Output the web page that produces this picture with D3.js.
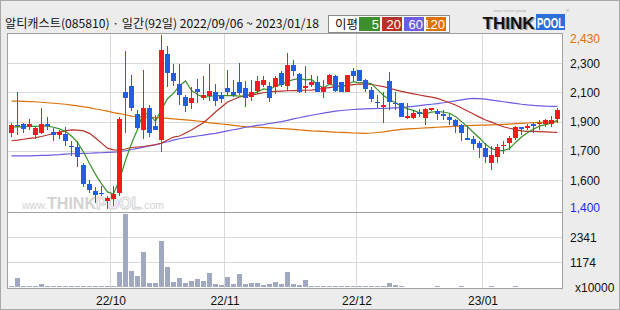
<!DOCTYPE html>
<html>
<head>
<meta charset="utf-8">
<script src="https://cdn.jsdelivr.net/npm/d3@7"></script>
<style>
body { margin: 0; background: #ececec; }
text { font-family: "Liberation Sans", Arial, sans-serif; }
</style>
</head>
<body>
<svg id="chart" width="620" height="310"></svg>
<script>
// daily candles, 2022/09/06 ~ 2023/01/18 (92 sessions)
var opens = [1850,1900,1905,1885,1840,1850,1905,1855,1840,1845,
  1775,1765,1660,1550,1505,1495,1445,1460,1495,2090,
  2130,1965,1870,2000,1890,1810,2320,2205,2140,2065,
  2025,2110,2060,2070,2095,2075,2115,2095,2150,2115,
  2065,2100,2135,2130,2125,2205,2130,2250,2200,2115,
  2135,2150,2095,2140,2185,2150,2095,2215,2220,2165,
  2105,2035,2005,2160,2030,2025,1940,1940,1975,1940,
  1985,1980,1960,1945,1925,1895,1820,1815,1790,1760,
  1670,1705,1775,1790,1820,1885,1880,1905,1905,1905,
  1905,1935];
var highs = [1910,2090,1910,1930,1885,1995,1945,1880,1870,1885,
  1800,1800,1670,1570,1530,1535,1475,1535,1945,2335,
  2195,1985,2225,2015,1955,2430,2365,2260,2260,2075,
  2125,2170,2185,2260,2140,2095,2225,2165,2265,2155,
  2165,2185,2185,2150,2185,2215,2325,2280,2205,2245,
  2195,2185,2165,2200,2195,2150,2195,2235,2225,2170,
  2120,2075,2095,2210,2090,2025,2030,1985,1990,1995,
  2000,1990,1985,1965,1935,1905,1885,1830,1800,1790,
  1770,1785,1805,1830,1890,1885,1905,1910,1925,1935,
  1950,1995];
var lows = [1825,1840,1850,1870,1815,1845,1870,1805,1815,1770,
  1715,1650,1530,1495,1435,1475,1400,1420,1475,1850,
  1980,1865,1815,1825,1865,1740,2120,2130,2015,1975,
  1990,2030,2045,2040,2010,2030,2070,2065,2075,2005,
  2040,2080,2120,2035,2080,2120,2100,2185,2085,2085,
  2120,2090,2060,2135,2090,2090,2095,2160,2155,2090,
  2035,2000,1910,1985,1985,1945,1930,1930,1945,1895,
  1980,1925,1925,1895,1850,1805,1815,1750,1700,1675,
  1630,1675,1725,1750,1810,1840,1870,1850,1870,1885,
  1885,1910];
var closes = [1895,1890,1875,1905,1880,1905,1890,1840,1855,1805,
  1770,1705,1550,1515,1485,1490,1465,1490,1935,2055,
  1995,1880,2000,1850,1870,2340,2205,2160,2075,2010,
  2055,2090,2075,2100,2040,2050,2090,2075,2085,2055,
  2090,2160,2165,2055,2175,2135,2250,2215,2090,2130,
  2150,2095,2120,2195,2100,2090,2195,2190,2160,2110,
  2050,2025,2015,2035,2020,1945,1950,1970,1960,1990,
  2000,1965,1955,1925,1890,1850,1815,1785,1760,1705,
  1720,1765,1780,1820,1885,1880,1890,1890,1910,1925,
  1925,1985];
// volume, x10000 shares
var volumes = [60,453,50,50,50,160,55,50,45,55,
  50,60,55,50,45,50,55,50,720,3430,
  765,530,1650,205,205,2165,950,250,440,205,
  300,390,300,670,160,90,485,160,625,160,
  205,205,90,160,250,160,720,160,90,330,
  80,70,70,70,70,70,80,60,80,70,
  60,60,70,205,90,45,40,40,40,40,
  40,45,40,40,40,45,40,40,40,40,
  45,40,40,40,45,40,40,40,40,40,
  40,40];
// moving averages
var ma5 = [1885,1888,1886,1890,1889,1891,1891,1884,1874,1859,
  1832,1795,1737,1669,1605,1549,1501,1489,1573,1687,
  1788,1871,1973,1956,1919,1988,2053,2085,2130,2158,
  2101,2078,2061,2066,2072,2071,2071,2071,2068,2071,
  2079,2093,2111,2105,2129,2138,2156,2166,2173,2164,
  2167,2136,2117,2138,2132,2120,2140,2154,2147,2149,
  2141,2107,2072,2047,2029,2008,1993,1984,1969,1963,
  1974,1977,1974,1967,1947,1917,1887,1853,1820,1783,
  1757,1747,1746,1758,1794,1826,1851,1873,1891,1899,
  1908,1927];
var ma20 = [1804,1808,1813,1818,1823,1829,1838,1847,1856,1862,
  1868,1867,1862,1848,1820,1790,1760,1750,1748,1755,
  1764,1767,1770,1776,1782,1789,1808,1826,1832,1850,
  1868,1890,1911,1942,1974,2004,2033,2048,2063,2069,
  2075,2081,2088,2094,2096,2098,2100,2101,2102,2103,
  2104,2109,2114,2119,2124,2128,2132,2136,2140,2139,
  2137,2131,2124,2115,2105,2096,2089,2082,2075,2068,
  2062,2055,2042,2029,2016,1998,1980,1962,1944,1927,
  1914,1900,1887,1878,1870,1862,1860,1859,1858,1857,
  1855,1854];
var ma60 = [1714,1714,1715,1715,1716,1717,1718,1720,1722,1725,
  1727,1728,1729,1730,1732,1733,1735,1737,1739,1745,
  1752,1759,1766,1773,1779,1789,1798,1808,1816,1822,
  1827,1832,1837,1843,1848,1855,1862,1869,1876,1884,
  1889,1895,1900,1906,1911,1917,1925,1933,1940,1948,
  1955,1961,1967,1973,1979,1983,1986,1989,1991,1993,
  1994,1995,1996,1997,1999,2001,2004,2008,2012,2016,
  2020,2024,2029,2035,2040,2046,2052,2055,2053,2050,
  2045,2040,2035,2030,2025,2020,2016,2013,2011,2009,
  2008,2007];
var ma120 = [2039,2038,2037,2036,2035,2032,2029,2026,2023,2020,
  2015,2010,2004,2000,1992,1986,1979,1971,1965,1958,
  1950,1946,1945,1943,1941,1939,1937,1933,1930,1928,
  1925,1921,1917,1910,1907,1903,1899,1895,1891,1888,
  1886,1884,1882,1880,1878,1876,1874,1871,1868,1866,
  1863,1861,1859,1857,1855,1854,1852,1850,1849,1848,
  1850,1853,1857,1862,1867,1871,1874,1876,1878,1880,
  1882,1884,1886,1888,1890,1891,1893,1895,1896,1897,
  1898,1899,1901,1903,1905,1907,1909,1911,1913,1914,
  1916,1917];

var priceTicks = [2430, 2262, 2090, 1917, 1744, 1571, 1400];
var priceLabels = ["2,430", "2,300", "2,100", "1,900", "1,700", "1,600", "1,400"];
var volTicks = [2341, 1174];
var volLabels = ["2341", "1174"];
var monthStarts = [17, 36, 58, 79];
var monthLabels = ["22/10", "22/11", "22/12", "23/01"];
var maNames = ["5", "20", "60", "120"];
var maColors = ["#3c8f2c", "#b9322a", "#6b5ce0", "#da7206"];

var svg = d3.select("#chart");
var n = closes.length;

var x = d3.scaleLinear().domain([0, n - 1]).range([11, 557]);
var yP = d3.scaleLinear().domain([1400, 2430]).range([209, 35]);
var yV = d3.scaleLinear().domain([0, 3521]).range([287.4, 212]);

// frame and panels
svg.append("rect").attr("x", 0.5).attr("y", 0.5).attr("width", 619).attr("height", 309)
  .attr("fill", "#ececec").attr("stroke", "#a8a8a8");
svg.append("rect").attr("x", 7.5).attr("y", 33.5).attr("width", 555).attr("height", 255)
  .attr("fill", "#fff");

var grid = svg.append("g").attr("stroke", "#d9d9d9").attr("shape-rendering", "crispEdges");
priceTicks.slice(1, -1).forEach(function (v) {
  grid.append("line").attr("x1", 8).attr("x2", 562)
    .attr("y1", Math.round(yP(v)) + 0.5).attr("y2", Math.round(yP(v)) + 0.5);
});
volTicks.forEach(function (v) {
  grid.append("line").attr("x1", 8).attr("x2", 562)
    .attr("y1", Math.round(yV(v)) + 0.5).attr("y2", Math.round(yV(v)) + 0.5);
});
monthStarts.forEach(function (i) {
  grid.append("line").attr("y1", 34).attr("y2", 288)
    .attr("x1", x(i) - 3 + 0.5).attr("x2", x(i) - 3 + 0.5);
});

// watermark
var wm = svg.append("text").attr("x", 22).attr("y", 209).attr("fill", "#d2d2d2");
wm.append("tspan").attr("font-size", 10.5).text("www.");
wm.append("tspan").attr("font-size", 16).attr("font-weight", "bold").text("THINK");
wm.append("tspan").attr("font-size", 16).attr("font-weight", "bold")
  .attr("fill", "#fff").attr("stroke", "#d2d2d2").attr("stroke-width", 1).text("POOL");
wm.append("tspan").attr("font-size", 10.5).text(".com");

// volume bars
svg.append("g").attr("shape-rendering", "crispEdges").selectAll("rect")
  .data(volumes).enter().append("rect")
  .attr("x", function (d, i) { return x(i) - 2; })
  .attr("width", 5)
  .attr("y", function (d) { return yV(d); })
  .attr("height", function (d) { return yV(0) - yV(d); })
  .attr("fill", "#a1a9c1");

// moving averages
var line = d3.line()
  .x(function (d, i) { return x(i) + 0.5; })
  .y(function (d) { return yP(d); });
[ma120, ma60, ma20, ma5].forEach(function (s, k) {
  svg.append("path").datum(s).attr("d", line).attr("fill", "none")
    .attr("stroke", maColors[3 - k]).attr("stroke-width", 1.2);
});

// candles
var candle = svg.append("g").attr("shape-rendering", "crispEdges")
  .selectAll("g").data(closes).enter().append("g");
function col(i) { return closes[i] >= opens[i] ? "#f21c1c" : "#1f5fe3"; }
candle.append("rect")
  .attr("x", function (d, i) { return x(i); })
  .attr("width", 1)
  .attr("y", function (d, i) { return yP(highs[i]); })
  .attr("height", function (d, i) { return yP(lows[i]) - yP(highs[i]); })
  .attr("fill", function (d, i) { return col(i); });
candle.append("rect")
  .attr("x", function (d, i) { return x(i) - 2; })
  .attr("width", 5)
  .attr("y", function (d, i) { return yP(Math.max(opens[i], closes[i])); })
  .attr("height", function (d, i) { return Math.max(1.5, Math.abs(yP(opens[i]) - yP(closes[i]))); })
  .attr("fill", function (d, i) { return col(i); });

// panel borders
svg.append("g").attr("fill", "none").attr("stroke", "#a0a0a0").attr("shape-rendering", "crispEdges")
  .call(function (g) {
    g.append("rect").attr("x", 7.5).attr("y", 33.5).attr("width", 555).attr("height", 255);
    g.append("line").attr("x1", 8).attr("x2", 562).attr("y1", 212.5).attr("y2", 212.5);
  });

// right axis
priceTicks.forEach(function (v, k) {
  var ty = Math.min(207, Math.max(38, yP(v)));
  svg.append("text").attr("x", 570).attr("y", ty + 4.5).attr("font-size", 12)
    .attr("fill", k === 0 ? "#e07000" : (k === priceTicks.length - 1 ? "#1431e0" : "#111"))
    .text(priceLabels[k]);
});
volTicks.forEach(function (v, k) {
  svg.append("text").attr("x", 570).attr("y", yV(v) + 4.5).attr("font-size", 12)
    .attr("fill", "#111").text(volLabels[k]);
});
svg.append("text").attr("x", 575).attr("y", 292).attr("font-size", 12).attr("fill", "#111").text("x10000");

// month labels
monthStarts.forEach(function (i, k) {
  svg.append("text").attr("x", x(i) - 2).attr("y", 305).attr("font-size", 12)
    .attr("text-anchor", "middle").attr("fill", "#111").text(monthLabels[k]);
});

// title
svg.append("text").attr("x", 5).attr("y", 28).attr("font-size", 12)
  .style("font-family", "'Noto Sans CJK KR', sans-serif").attr("fill", "#111")
  .attr("textLength", 314).attr("lengthAdjust", "spacingAndGlyphs")
  .text("알티캐스트(085810) · 일간(92일) 2022/09/06 ~ 2023/01/18");

// legend
svg.append("rect").attr("x", 328.5).attr("y", 15.5).attr("width", 121).attr("height", 17)
  .attr("fill", "#fff").attr("stroke", "#8a8a8a");
svg.append("text").attr("x", 335).attr("y", 29).attr("font-size", 12.5)
  .style("font-family", "'Noto Sans CJK KR', sans-serif").attr("fill", "#111").text("이평");
var lx = [359, 382, 404, 426];
maNames.forEach(function (nm, k) {
  svg.append("rect").attr("x", lx[k]).attr("y", 17).attr("width", k === 0 ? 21 : 20).attr("height", 14)
    .attr("fill", maColors[k]);
  svg.append("text").attr("x", lx[k] + (k === 0 ? 20 : 19)).attr("y", 29).attr("font-size", 13)
    .attr("text-anchor", "end").attr("fill", "#fff").text(nm);
});

// logo
svg.append("text").attr("x", 493).attr("y", 12).attr("font-size", 4).attr("fill", "#aaa").text("smart invest group");
svg.append("text").attr("x", 484).attr("y", 30).attr("font-size", 16).attr("font-weight", "bold")
  .attr("textLength", 52).attr("lengthAdjust", "spacingAndGlyphs").attr("fill", "#9a9a9a").text("THINK");
svg.append("text").attr("x", 482.5).attr("y", 28.5).attr("font-size", 16).attr("font-weight", "bold")
  .attr("textLength", 52).attr("lengthAdjust", "spacingAndGlyphs").attr("fill", "#111").text("THINK");
svg.append("rect").attr("x", 536).attr("y", 14).attr("width", 29).attr("height", 16).attr("fill", "#2d6fd8");
svg.append("text").attr("x", 537).attr("y", 28).attr("font-size", 15).attr("font-weight", "bold")
  .attr("textLength", 27).attr("lengthAdjust", "spacingAndGlyphs").attr("fill", "#fff").text("POOL");
svg.append("text").attr("x", 566).attr("y", 12).attr("font-size", 4).attr("fill", "#888").text("®");
</script>
</body>
</html>
